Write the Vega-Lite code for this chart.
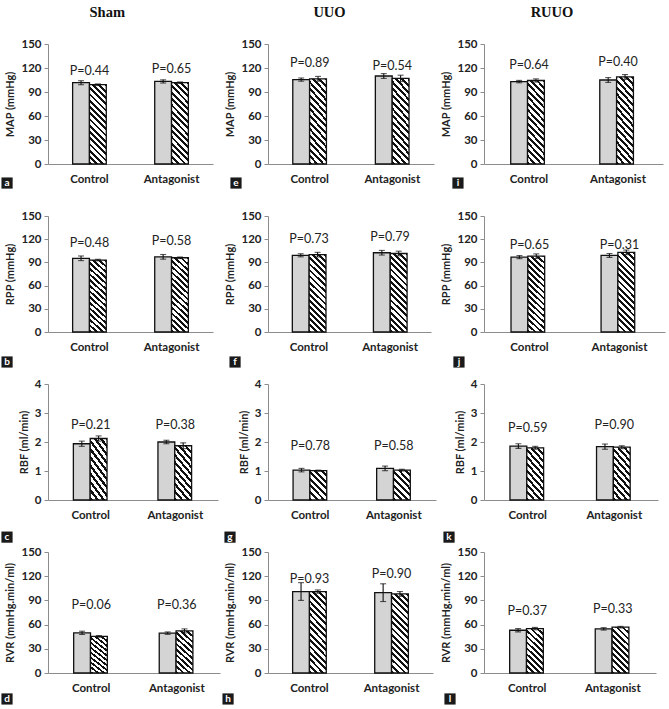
{
"$schema": "https://vega.github.io/schema/vega-lite/v6.json",
"background": "white",
"padding": {"left": 1, "top": 4, "right": 2, "bottom": 2},
"datasets": {
"bars": [
{"panel":"Sham-MAP","group":"Control","series":"dotted","mean":101.6,"lo":99.1,"hi":104.1},
{"panel":"Sham-MAP","group":"Control","series":"hatched","mean":99.1,"lo":98.1,"hi":100.1},
{"panel":"Sham-MAP","group":"Antagonist","series":"dotted","mean":103.2,"lo":101.2,"hi":105.2},
{"panel":"Sham-MAP","group":"Antagonist","series":"hatched","mean":101.6,"lo":100.6,"hi":102.6},
{"panel":"UUO-MAP","group":"Control","series":"dotted","mean":105.5,"lo":103.5,"hi":107.5},
{"panel":"UUO-MAP","group":"Control","series":"hatched","mean":106.5,"lo":103.5,"hi":109.5},
{"panel":"UUO-MAP","group":"Antagonist","series":"dotted","mean":110,"lo":107,"hi":113},
{"panel":"UUO-MAP","group":"Antagonist","series":"hatched","mean":107,"lo":103,"hi":111},
{"panel":"RUUO-MAP","group":"Control","series":"dotted","mean":103,"lo":101.5,"hi":104.5},
{"panel":"RUUO-MAP","group":"Control","series":"hatched","mean":104.4,"lo":102.4,"hi":106.4},
{"panel":"RUUO-MAP","group":"Antagonist","series":"dotted","mean":105,"lo":102,"hi":108},
{"panel":"RUUO-MAP","group":"Antagonist","series":"hatched","mean":108.8,"lo":105.8,"hi":111.8},
{"panel":"Sham-RPP","group":"Control","series":"dotted","mean":95.3,"lo":92.3,"hi":98.3},
{"panel":"Sham-RPP","group":"Control","series":"hatched","mean":93,"lo":92,"hi":94},
{"panel":"Sham-RPP","group":"Antagonist","series":"dotted","mean":97.2,"lo":94.2,"hi":100.2},
{"panel":"Sham-RPP","group":"Antagonist","series":"hatched","mean":96,"lo":95,"hi":97},
{"panel":"UUO-RPP","group":"Control","series":"dotted","mean":99.2,"lo":97.2,"hi":101.2},
{"panel":"UUO-RPP","group":"Control","series":"hatched","mean":100,"lo":97,"hi":103},
{"panel":"UUO-RPP","group":"Antagonist","series":"dotted","mean":102.5,"lo":99.5,"hi":105.5},
{"panel":"UUO-RPP","group":"Antagonist","series":"hatched","mean":101.5,"lo":98.5,"hi":104.5},
{"panel":"RUUO-RPP","group":"Control","series":"dotted","mean":96.8,"lo":94.8,"hi":98.8},
{"panel":"RUUO-RPP","group":"Control","series":"hatched","mean":98,"lo":95,"hi":101},
{"panel":"RUUO-RPP","group":"Antagonist","series":"dotted","mean":99,"lo":96.5,"hi":101.5},
{"panel":"RUUO-RPP","group":"Antagonist","series":"hatched","mean":103,"lo":100,"hi":106},
{"panel":"Sham-RBF","group":"Control","series":"dotted","mean":1.94,"lo":1.85,"hi":2.03},
{"panel":"Sham-RBF","group":"Control","series":"hatched","mean":2.12,"lo":2.03,"hi":2.21},
{"panel":"Sham-RBF","group":"Antagonist","series":"dotted","mean":2.0,"lo":1.94,"hi":2.06},
{"panel":"Sham-RBF","group":"Antagonist","series":"hatched","mean":1.87,"lo":1.77,"hi":1.97},
{"panel":"UUO-RBF","group":"Control","series":"dotted","mean":1.03,"lo":0.97,"hi":1.09},
{"panel":"UUO-RBF","group":"Control","series":"hatched","mean":1.01,"lo":0.99,"hi":1.03},
{"panel":"UUO-RBF","group":"Antagonist","series":"dotted","mean":1.09,"lo":1.01,"hi":1.17},
{"panel":"UUO-RBF","group":"Antagonist","series":"hatched","mean":1.03,"lo":1.0,"hi":1.06},
{"panel":"RUUO-RBF","group":"Control","series":"dotted","mean":1.86,"lo":1.78,"hi":1.94},
{"panel":"RUUO-RBF","group":"Control","series":"hatched","mean":1.8,"lo":1.75,"hi":1.85},
{"panel":"RUUO-RBF","group":"Antagonist","series":"dotted","mean":1.84,"lo":1.75,"hi":1.93},
{"panel":"RUUO-RBF","group":"Antagonist","series":"hatched","mean":1.82,"lo":1.77,"hi":1.87},
{"panel":"Sham-RVR","group":"Control","series":"dotted","mean":49.8,"lo":47.8,"hi":51.8},
{"panel":"Sham-RVR","group":"Control","series":"hatched","mean":45.4,"lo":44.4,"hi":46.4},
{"panel":"Sham-RVR","group":"Antagonist","series":"dotted","mean":49.4,"lo":47.9,"hi":50.9},
{"panel":"Sham-RVR","group":"Antagonist","series":"hatched","mean":52.2,"lo":49.7,"hi":54.7},
{"panel":"UUO-RVR","group":"Control","series":"dotted","mean":101,"lo":90,"hi":112},
{"panel":"UUO-RVR","group":"Control","series":"hatched","mean":101,"lo":99,"hi":103},
{"panel":"UUO-RVR","group":"Antagonist","series":"dotted","mean":99.6,"lo":88.6,"hi":110.6},
{"panel":"UUO-RVR","group":"Antagonist","series":"hatched","mean":98,"lo":95,"hi":101},
{"panel":"RUUO-RVR","group":"Control","series":"dotted","mean":53,"lo":51,"hi":55},
{"panel":"RUUO-RVR","group":"Control","series":"hatched","mean":55,"lo":53.5,"hi":56.5},
{"panel":"RUUO-RVR","group":"Antagonist","series":"dotted","mean":54.7,"lo":53.2,"hi":56.2},
{"panel":"RUUO-RVR","group":"Antagonist","series":"hatched","mean":56.8,"lo":55.8,"hi":57.8}
],
"plabels": [
{"panel":"Sham-MAP","group":"Control","p":"P=0.44","py":116},
{"panel":"Sham-MAP","group":"Antagonist","p":"P=0.65","py":119},
{"panel":"UUO-MAP","group":"Control","p":"P=0.89","py":126},
{"panel":"UUO-MAP","group":"Antagonist","p":"P=0.54","py":122},
{"panel":"RUUO-MAP","group":"Control","p":"P=0.64","py":124},
{"panel":"RUUO-MAP","group":"Antagonist","p":"P=0.40","py":128},
{"panel":"Sham-RPP","group":"Control","p":"P=0.48","py":115},
{"panel":"Sham-RPP","group":"Antagonist","p":"P=0.58","py":118},
{"panel":"UUO-RPP","group":"Control","p":"P=0.73","py":120},
{"panel":"UUO-RPP","group":"Antagonist","p":"P=0.79","py":123},
{"panel":"RUUO-RPP","group":"Control","p":"P=0.65","py":112},
{"panel":"RUUO-RPP","group":"Antagonist","p":"P=0.31","py":113},
{"panel":"Sham-RBF","group":"Control","p":"P=0.21","py":2.58},
{"panel":"Sham-RBF","group":"Antagonist","p":"P=0.38","py":2.58},
{"panel":"UUO-RBF","group":"Control","p":"P=0.78","py":1.85},
{"panel":"UUO-RBF","group":"Antagonist","p":"P=0.58","py":1.85},
{"panel":"RUUO-RBF","group":"Control","p":"P=0.59","py":2.48},
{"panel":"RUUO-RBF","group":"Antagonist","p":"P=0.90","py":2.6},
{"panel":"Sham-RVR","group":"Control","p":"P=0.06","py":84},
{"panel":"Sham-RVR","group":"Antagonist","p":"P=0.36","py":84},
{"panel":"UUO-RVR","group":"Control","p":"P=0.93","py":116},
{"panel":"UUO-RVR","group":"Antagonist","p":"P=0.90","py":123},
{"panel":"RUUO-RVR","group":"Control","p":"P=0.37","py":77},
{"panel":"RUUO-RVR","group":"Antagonist","p":"P=0.33","py":79}
],
"tags": [
{"panel":"Sham-MAP","group":"Control","letter":"a","ly":-23.8},{"panel":"Sham-RPP","group":"Control","letter":"b","ly":-38.8},{"panel":"Sham-RBF","group":"Control","letter":"c","ly":-1.28},{"panel":"Sham-RVR","group":"Control","letter":"d","ly":-32.2},
{"panel":"UUO-MAP","group":"Control","letter":"e","ly":-23.8},{"panel":"UUO-RPP","group":"Control","letter":"f","ly":-38.8},{"panel":"UUO-RBF","group":"Control","letter":"g","ly":-1.28},{"panel":"UUO-RVR","group":"Control","letter":"h","ly":-32.2},
{"panel":"RUUO-MAP","group":"Control","letter":"i","ly":-23.8},{"panel":"RUUO-RPP","group":"Control","letter":"j","ly":-38.8},{"panel":"RUUO-RBF","group":"Control","letter":"k","ly":-1.28},{"panel":"RUUO-RVR","group":"Control","letter":"l","ly":-32.2}
]
},
"columns": 3,
"spacing": {"row": 52, "column": 48},
"bounds": "flush",
"align": {"row": "each", "column": "none"},
"concat": [
{"width":165,"height":120,"title":{"text":"Sham"},
 "encoding":{"x":{"field":"group","type":"nominal","sort":["Control","Antagonist"],"scale":{"paddingInner":0.59,"paddingOuter":0.3},"axis":{"title":null}},
  "y":{"field":"mean","type":"quantitative","scale":{"domain":[0,150],"nice":false},"axis":{"values":[0,30,60,90,120,150],"title":"MAP (mmHg)"}}},
 "layer":[
  {"data":{"name":"bars"},"transform":[{"filter":"datum.panel=='Sham-MAP'"}],"layer":[
   {"transform":[{"filter":"datum.series=='dotted'"}],"mark":{"type":"bar","fill":"#d4d4d4","stroke":"#111","strokeWidth":1.3},"encoding":{"xOffset":{"field":"series","type":"nominal","scale":{"domain":["dotted","hatched"],"paddingInner":0,"paddingOuter":0}}}},
   {"transform":[{"filter":"datum.series=='hatched'"}],"mark":{"type":"bar","stroke":"#111","strokeWidth":1.3,"fill":{"gradient":"linear","x1":0,"y1":1,"x2":0.2562,"y2":-0.2056,"stops":[
{"offset":0,"color":"#111"},{"offset":0.0281,"color":"#111"},{"offset":0.0281,"color":"#fff"},{"offset":0.0625,"color":"#fff"},
{"offset":0.0625,"color":"#111"},{"offset":0.0906,"color":"#111"},{"offset":0.0906,"color":"#fff"},{"offset":0.125,"color":"#fff"},
{"offset":0.125,"color":"#111"},{"offset":0.1531,"color":"#111"},{"offset":0.1531,"color":"#fff"},{"offset":0.1875,"color":"#fff"},
{"offset":0.1875,"color":"#111"},{"offset":0.2156,"color":"#111"},{"offset":0.2156,"color":"#fff"},{"offset":0.25,"color":"#fff"},
{"offset":0.25,"color":"#111"},{"offset":0.2781,"color":"#111"},{"offset":0.2781,"color":"#fff"},{"offset":0.3125,"color":"#fff"},
{"offset":0.3125,"color":"#111"},{"offset":0.3406,"color":"#111"},{"offset":0.3406,"color":"#fff"},{"offset":0.375,"color":"#fff"},
{"offset":0.375,"color":"#111"},{"offset":0.4031,"color":"#111"},{"offset":0.4031,"color":"#fff"},{"offset":0.4375,"color":"#fff"},
{"offset":0.4375,"color":"#111"},{"offset":0.4656,"color":"#111"},{"offset":0.4656,"color":"#fff"},{"offset":0.5,"color":"#fff"},
{"offset":0.5,"color":"#111"},{"offset":0.5281,"color":"#111"},{"offset":0.5281,"color":"#fff"},{"offset":0.5625,"color":"#fff"},
{"offset":0.5625,"color":"#111"},{"offset":0.5906,"color":"#111"},{"offset":0.5906,"color":"#fff"},{"offset":0.625,"color":"#fff"},
{"offset":0.625,"color":"#111"},{"offset":0.6531,"color":"#111"},{"offset":0.6531,"color":"#fff"},{"offset":0.6875,"color":"#fff"},
{"offset":0.6875,"color":"#111"},{"offset":0.7156,"color":"#111"},{"offset":0.7156,"color":"#fff"},{"offset":0.75,"color":"#fff"},
{"offset":0.75,"color":"#111"},{"offset":0.7781,"color":"#111"},{"offset":0.7781,"color":"#fff"},{"offset":0.8125,"color":"#fff"},
{"offset":0.8125,"color":"#111"},{"offset":0.8406,"color":"#111"},{"offset":0.8406,"color":"#fff"},{"offset":0.875,"color":"#fff"},
{"offset":0.875,"color":"#111"},{"offset":0.9031,"color":"#111"},{"offset":0.9031,"color":"#fff"},{"offset":0.9375,"color":"#fff"},
{"offset":0.9375,"color":"#111"},{"offset":0.9656,"color":"#111"},{"offset":0.9656,"color":"#fff"},{"offset":1,"color":"#fff"}]}},"encoding":{"xOffset":{"field":"series","type":"nominal"}}},
   {"mark":{"type":"rule","color":"#111","strokeWidth":1.1},"encoding":{"xOffset":{"field":"series","type":"nominal"},"y":{"field":"lo","type":"quantitative"},"y2":{"field":"hi"}}},
   {"mark":{"type":"tick","color":"#111","size":6,"thickness":1.1},"encoding":{"xOffset":{"field":"series","type":"nominal"},"y":{"field":"lo","type":"quantitative"}}},
   {"mark":{"type":"tick","color":"#111","size":6,"thickness":1.1},"encoding":{"xOffset":{"field":"series","type":"nominal"},"y":{"field":"hi","type":"quantitative"}}}
  ]},
  {"data":{"name":"plabels"},"transform":[{"filter":"datum.panel=='Sham-MAP'"}],"mark":{"type":"text","fontSize":12.5,"color":"#222"},"encoding":{"y":{"field":"py","type":"quantitative"},"text":{"field":"p"}}},
  {"data":{"name":"tags"},"transform":[{"filter":"datum.panel=='Sham-MAP'"}],"layer":[
   {"mark":{"type":"point","shape":"square","filled":true,"color":"#1a1a1a","opacity":1,"size":125,"xOffset":-82.4},"encoding":{"y":{"field":"ly","type":"quantitative"}}},
   {"mark":{"type":"text","color":"white","fontWeight":"bold","fontSize":10,"dx":-82.4},"encoding":{"y":{"field":"ly","type":"quantitative"},"text":{"field":"letter"}}}
  ]}
 ]},
{"width":166,"height":120,"title":{"text":"UUO"},
 "encoding":{"x":{"field":"group","type":"nominal","sort":["Control","Antagonist"],"scale":{"paddingInner":0.59,"paddingOuter":0.3},"axis":{"title":null}},
  "y":{"field":"mean","type":"quantitative","scale":{"domain":[0,150],"nice":false},"axis":{"values":[0,30,60,90,120,150],"title":"MAP (mmHg)"}}},
 "layer":[
  {"data":{"name":"bars"},"transform":[{"filter":"datum.panel=='UUO-MAP'"}],"layer":[
   {"transform":[{"filter":"datum.series=='dotted'"}],"mark":{"type":"bar","fill":"#d4d4d4","stroke":"#111","strokeWidth":1.3},"encoding":{"xOffset":{"field":"series","type":"nominal","scale":{"domain":["dotted","hatched"],"paddingInner":0,"paddingOuter":0}}}},
   {"transform":[{"filter":"datum.series=='hatched'"}],"mark":{"type":"bar","stroke":"#111","strokeWidth":1.3,"fill":{"gradient":"linear","x1":0,"y1":1,"x2":0.2562,"y2":-0.2056,"stops":[
{"offset":0,"color":"#111"},{"offset":0.0281,"color":"#111"},{"offset":0.0281,"color":"#fff"},{"offset":0.0625,"color":"#fff"},
{"offset":0.0625,"color":"#111"},{"offset":0.0906,"color":"#111"},{"offset":0.0906,"color":"#fff"},{"offset":0.125,"color":"#fff"},
{"offset":0.125,"color":"#111"},{"offset":0.1531,"color":"#111"},{"offset":0.1531,"color":"#fff"},{"offset":0.1875,"color":"#fff"},
{"offset":0.1875,"color":"#111"},{"offset":0.2156,"color":"#111"},{"offset":0.2156,"color":"#fff"},{"offset":0.25,"color":"#fff"},
{"offset":0.25,"color":"#111"},{"offset":0.2781,"color":"#111"},{"offset":0.2781,"color":"#fff"},{"offset":0.3125,"color":"#fff"},
{"offset":0.3125,"color":"#111"},{"offset":0.3406,"color":"#111"},{"offset":0.3406,"color":"#fff"},{"offset":0.375,"color":"#fff"},
{"offset":0.375,"color":"#111"},{"offset":0.4031,"color":"#111"},{"offset":0.4031,"color":"#fff"},{"offset":0.4375,"color":"#fff"},
{"offset":0.4375,"color":"#111"},{"offset":0.4656,"color":"#111"},{"offset":0.4656,"color":"#fff"},{"offset":0.5,"color":"#fff"},
{"offset":0.5,"color":"#111"},{"offset":0.5281,"color":"#111"},{"offset":0.5281,"color":"#fff"},{"offset":0.5625,"color":"#fff"},
{"offset":0.5625,"color":"#111"},{"offset":0.5906,"color":"#111"},{"offset":0.5906,"color":"#fff"},{"offset":0.625,"color":"#fff"},
{"offset":0.625,"color":"#111"},{"offset":0.6531,"color":"#111"},{"offset":0.6531,"color":"#fff"},{"offset":0.6875,"color":"#fff"},
{"offset":0.6875,"color":"#111"},{"offset":0.7156,"color":"#111"},{"offset":0.7156,"color":"#fff"},{"offset":0.75,"color":"#fff"},
{"offset":0.75,"color":"#111"},{"offset":0.7781,"color":"#111"},{"offset":0.7781,"color":"#fff"},{"offset":0.8125,"color":"#fff"},
{"offset":0.8125,"color":"#111"},{"offset":0.8406,"color":"#111"},{"offset":0.8406,"color":"#fff"},{"offset":0.875,"color":"#fff"},
{"offset":0.875,"color":"#111"},{"offset":0.9031,"color":"#111"},{"offset":0.9031,"color":"#fff"},{"offset":0.9375,"color":"#fff"},
{"offset":0.9375,"color":"#111"},{"offset":0.9656,"color":"#111"},{"offset":0.9656,"color":"#fff"},{"offset":1,"color":"#fff"}]}},"encoding":{"xOffset":{"field":"series","type":"nominal"}}},
   {"mark":{"type":"rule","color":"#111","strokeWidth":1.1},"encoding":{"xOffset":{"field":"series","type":"nominal"},"y":{"field":"lo","type":"quantitative"},"y2":{"field":"hi"}}},
   {"mark":{"type":"tick","color":"#111","size":6,"thickness":1.1},"encoding":{"xOffset":{"field":"series","type":"nominal"},"y":{"field":"lo","type":"quantitative"}}},
   {"mark":{"type":"tick","color":"#111","size":6,"thickness":1.1},"encoding":{"xOffset":{"field":"series","type":"nominal"},"y":{"field":"hi","type":"quantitative"}}}
  ]},
  {"data":{"name":"plabels"},"transform":[{"filter":"datum.panel=='UUO-MAP'"}],"mark":{"type":"text","fontSize":12.5,"color":"#222"},"encoding":{"y":{"field":"py","type":"quantitative"},"text":{"field":"p"}}},
  {"data":{"name":"tags"},"transform":[{"filter":"datum.panel=='UUO-MAP'"}],"layer":[
   {"mark":{"type":"point","shape":"square","filled":true,"color":"#1a1a1a","opacity":1,"size":125,"xOffset":-73.7},"encoding":{"y":{"field":"ly","type":"quantitative"}}},
   {"mark":{"type":"text","color":"white","fontWeight":"bold","fontSize":10,"dx":-73.7},"encoding":{"y":{"field":"ly","type":"quantitative"},"text":{"field":"letter"}}}
  ]}
 ]},
{"width":179,"height":120,"title":{"text":"RUUO"},
 "encoding":{"x":{"field":"group","type":"nominal","sort":["Control","Antagonist"],"scale":{"paddingInner":0.59,"paddingOuter":0.3},"axis":{"title":null}},
  "y":{"field":"mean","type":"quantitative","scale":{"domain":[0,150],"nice":false},"axis":{"values":[0,30,60,90,120,150],"title":"MAP (mmHg)"}}},
 "layer":[
  {"data":{"name":"bars"},"transform":[{"filter":"datum.panel=='RUUO-MAP'"}],"layer":[
   {"transform":[{"filter":"datum.series=='dotted'"}],"mark":{"type":"bar","fill":"#d4d4d4","stroke":"#111","strokeWidth":1.3},"encoding":{"xOffset":{"field":"series","type":"nominal","scale":{"domain":["dotted","hatched"],"paddingInner":0,"paddingOuter":0}}}},
   {"transform":[{"filter":"datum.series=='hatched'"}],"mark":{"type":"bar","stroke":"#111","strokeWidth":1.3,"fill":{"gradient":"linear","x1":0,"y1":1,"x2":0.2562,"y2":-0.2056,"stops":[
{"offset":0,"color":"#111"},{"offset":0.0281,"color":"#111"},{"offset":0.0281,"color":"#fff"},{"offset":0.0625,"color":"#fff"},
{"offset":0.0625,"color":"#111"},{"offset":0.0906,"color":"#111"},{"offset":0.0906,"color":"#fff"},{"offset":0.125,"color":"#fff"},
{"offset":0.125,"color":"#111"},{"offset":0.1531,"color":"#111"},{"offset":0.1531,"color":"#fff"},{"offset":0.1875,"color":"#fff"},
{"offset":0.1875,"color":"#111"},{"offset":0.2156,"color":"#111"},{"offset":0.2156,"color":"#fff"},{"offset":0.25,"color":"#fff"},
{"offset":0.25,"color":"#111"},{"offset":0.2781,"color":"#111"},{"offset":0.2781,"color":"#fff"},{"offset":0.3125,"color":"#fff"},
{"offset":0.3125,"color":"#111"},{"offset":0.3406,"color":"#111"},{"offset":0.3406,"color":"#fff"},{"offset":0.375,"color":"#fff"},
{"offset":0.375,"color":"#111"},{"offset":0.4031,"color":"#111"},{"offset":0.4031,"color":"#fff"},{"offset":0.4375,"color":"#fff"},
{"offset":0.4375,"color":"#111"},{"offset":0.4656,"color":"#111"},{"offset":0.4656,"color":"#fff"},{"offset":0.5,"color":"#fff"},
{"offset":0.5,"color":"#111"},{"offset":0.5281,"color":"#111"},{"offset":0.5281,"color":"#fff"},{"offset":0.5625,"color":"#fff"},
{"offset":0.5625,"color":"#111"},{"offset":0.5906,"color":"#111"},{"offset":0.5906,"color":"#fff"},{"offset":0.625,"color":"#fff"},
{"offset":0.625,"color":"#111"},{"offset":0.6531,"color":"#111"},{"offset":0.6531,"color":"#fff"},{"offset":0.6875,"color":"#fff"},
{"offset":0.6875,"color":"#111"},{"offset":0.7156,"color":"#111"},{"offset":0.7156,"color":"#fff"},{"offset":0.75,"color":"#fff"},
{"offset":0.75,"color":"#111"},{"offset":0.7781,"color":"#111"},{"offset":0.7781,"color":"#fff"},{"offset":0.8125,"color":"#fff"},
{"offset":0.8125,"color":"#111"},{"offset":0.8406,"color":"#111"},{"offset":0.8406,"color":"#fff"},{"offset":0.875,"color":"#fff"},
{"offset":0.875,"color":"#111"},{"offset":0.9031,"color":"#111"},{"offset":0.9031,"color":"#fff"},{"offset":0.9375,"color":"#fff"},
{"offset":0.9375,"color":"#111"},{"offset":0.9656,"color":"#111"},{"offset":0.9656,"color":"#fff"},{"offset":1,"color":"#fff"}]}},"encoding":{"xOffset":{"field":"series","type":"nominal"}}},
   {"mark":{"type":"rule","color":"#111","strokeWidth":1.1},"encoding":{"xOffset":{"field":"series","type":"nominal"},"y":{"field":"lo","type":"quantitative"},"y2":{"field":"hi"}}},
   {"mark":{"type":"tick","color":"#111","size":6,"thickness":1.1},"encoding":{"xOffset":{"field":"series","type":"nominal"},"y":{"field":"lo","type":"quantitative"}}},
   {"mark":{"type":"tick","color":"#111","size":6,"thickness":1.1},"encoding":{"xOffset":{"field":"series","type":"nominal"},"y":{"field":"hi","type":"quantitative"}}}
  ]},
  {"data":{"name":"plabels"},"transform":[{"filter":"datum.panel=='RUUO-MAP'"}],"mark":{"type":"text","fontSize":12.5,"color":"#222"},"encoding":{"y":{"field":"py","type":"quantitative"},"text":{"field":"p"}}},
  {"data":{"name":"tags"},"transform":[{"filter":"datum.panel=='RUUO-MAP'"}],"layer":[
   {"mark":{"type":"point","shape":"square","filled":true,"color":"#1a1a1a","opacity":1,"size":125,"xOffset":-71},"encoding":{"y":{"field":"ly","type":"quantitative"}}},
   {"mark":{"type":"text","color":"white","fontWeight":"bold","fontSize":10,"dx":-71},"encoding":{"y":{"field":"ly","type":"quantitative"},"text":{"field":"letter"}}}
  ]}
 ]},
{"width":165,"height":116,
 "encoding":{"x":{"field":"group","type":"nominal","sort":["Control","Antagonist"],"scale":{"paddingInner":0.59,"paddingOuter":0.3},"axis":{"title":null}},
  "y":{"field":"mean","type":"quantitative","scale":{"domain":[0,150],"nice":false},"axis":{"values":[0,30,60,90,120,150],"title":"RPP (mmHg)"}}},
 "layer":[
  {"data":{"name":"bars"},"transform":[{"filter":"datum.panel=='Sham-RPP'"}],"layer":[
   {"transform":[{"filter":"datum.series=='dotted'"}],"mark":{"type":"bar","fill":"#d4d4d4","stroke":"#111","strokeWidth":1.3},"encoding":{"xOffset":{"field":"series","type":"nominal","scale":{"domain":["dotted","hatched"],"paddingInner":0,"paddingOuter":0}}}},
   {"transform":[{"filter":"datum.series=='hatched'"}],"mark":{"type":"bar","stroke":"#111","strokeWidth":1.3,"fill":{"gradient":"linear","x1":0,"y1":1,"x2":0.2562,"y2":-0.2056,"stops":[
{"offset":0,"color":"#111"},{"offset":0.0281,"color":"#111"},{"offset":0.0281,"color":"#fff"},{"offset":0.0625,"color":"#fff"},
{"offset":0.0625,"color":"#111"},{"offset":0.0906,"color":"#111"},{"offset":0.0906,"color":"#fff"},{"offset":0.125,"color":"#fff"},
{"offset":0.125,"color":"#111"},{"offset":0.1531,"color":"#111"},{"offset":0.1531,"color":"#fff"},{"offset":0.1875,"color":"#fff"},
{"offset":0.1875,"color":"#111"},{"offset":0.2156,"color":"#111"},{"offset":0.2156,"color":"#fff"},{"offset":0.25,"color":"#fff"},
{"offset":0.25,"color":"#111"},{"offset":0.2781,"color":"#111"},{"offset":0.2781,"color":"#fff"},{"offset":0.3125,"color":"#fff"},
{"offset":0.3125,"color":"#111"},{"offset":0.3406,"color":"#111"},{"offset":0.3406,"color":"#fff"},{"offset":0.375,"color":"#fff"},
{"offset":0.375,"color":"#111"},{"offset":0.4031,"color":"#111"},{"offset":0.4031,"color":"#fff"},{"offset":0.4375,"color":"#fff"},
{"offset":0.4375,"color":"#111"},{"offset":0.4656,"color":"#111"},{"offset":0.4656,"color":"#fff"},{"offset":0.5,"color":"#fff"},
{"offset":0.5,"color":"#111"},{"offset":0.5281,"color":"#111"},{"offset":0.5281,"color":"#fff"},{"offset":0.5625,"color":"#fff"},
{"offset":0.5625,"color":"#111"},{"offset":0.5906,"color":"#111"},{"offset":0.5906,"color":"#fff"},{"offset":0.625,"color":"#fff"},
{"offset":0.625,"color":"#111"},{"offset":0.6531,"color":"#111"},{"offset":0.6531,"color":"#fff"},{"offset":0.6875,"color":"#fff"},
{"offset":0.6875,"color":"#111"},{"offset":0.7156,"color":"#111"},{"offset":0.7156,"color":"#fff"},{"offset":0.75,"color":"#fff"},
{"offset":0.75,"color":"#111"},{"offset":0.7781,"color":"#111"},{"offset":0.7781,"color":"#fff"},{"offset":0.8125,"color":"#fff"},
{"offset":0.8125,"color":"#111"},{"offset":0.8406,"color":"#111"},{"offset":0.8406,"color":"#fff"},{"offset":0.875,"color":"#fff"},
{"offset":0.875,"color":"#111"},{"offset":0.9031,"color":"#111"},{"offset":0.9031,"color":"#fff"},{"offset":0.9375,"color":"#fff"},
{"offset":0.9375,"color":"#111"},{"offset":0.9656,"color":"#111"},{"offset":0.9656,"color":"#fff"},{"offset":1,"color":"#fff"}]}},"encoding":{"xOffset":{"field":"series","type":"nominal"}}},
   {"mark":{"type":"rule","color":"#111","strokeWidth":1.1},"encoding":{"xOffset":{"field":"series","type":"nominal"},"y":{"field":"lo","type":"quantitative"},"y2":{"field":"hi"}}},
   {"mark":{"type":"tick","color":"#111","size":6,"thickness":1.1},"encoding":{"xOffset":{"field":"series","type":"nominal"},"y":{"field":"lo","type":"quantitative"}}},
   {"mark":{"type":"tick","color":"#111","size":6,"thickness":1.1},"encoding":{"xOffset":{"field":"series","type":"nominal"},"y":{"field":"hi","type":"quantitative"}}}
  ]},
  {"data":{"name":"plabels"},"transform":[{"filter":"datum.panel=='Sham-RPP'"}],"mark":{"type":"text","fontSize":12.5,"color":"#222"},"encoding":{"y":{"field":"py","type":"quantitative"},"text":{"field":"p"}}},
  {"data":{"name":"tags"},"transform":[{"filter":"datum.panel=='Sham-RPP'"}],"layer":[
   {"mark":{"type":"point","shape":"square","filled":true,"color":"#1a1a1a","opacity":1,"size":125,"xOffset":-82.4},"encoding":{"y":{"field":"ly","type":"quantitative"}}},
   {"mark":{"type":"text","color":"white","fontWeight":"bold","fontSize":10,"dx":-82.4},"encoding":{"y":{"field":"ly","type":"quantitative"},"text":{"field":"letter"}}}
  ]}
 ]},
{"width":163,"height":116,
 "encoding":{"x":{"field":"group","type":"nominal","sort":["Control","Antagonist"],"scale":{"paddingInner":0.59,"paddingOuter":0.3},"axis":{"title":null}},
  "y":{"field":"mean","type":"quantitative","scale":{"domain":[0,150],"nice":false},"axis":{"values":[0,30,60,90,120,150],"title":"RPP (mmHg)"}}},
 "layer":[
  {"data":{"name":"bars"},"transform":[{"filter":"datum.panel=='UUO-RPP'"}],"layer":[
   {"transform":[{"filter":"datum.series=='dotted'"}],"mark":{"type":"bar","fill":"#d4d4d4","stroke":"#111","strokeWidth":1.3},"encoding":{"xOffset":{"field":"series","type":"nominal","scale":{"domain":["dotted","hatched"],"paddingInner":0,"paddingOuter":0}}}},
   {"transform":[{"filter":"datum.series=='hatched'"}],"mark":{"type":"bar","stroke":"#111","strokeWidth":1.3,"fill":{"gradient":"linear","x1":0,"y1":1,"x2":0.2562,"y2":-0.2056,"stops":[
{"offset":0,"color":"#111"},{"offset":0.0281,"color":"#111"},{"offset":0.0281,"color":"#fff"},{"offset":0.0625,"color":"#fff"},
{"offset":0.0625,"color":"#111"},{"offset":0.0906,"color":"#111"},{"offset":0.0906,"color":"#fff"},{"offset":0.125,"color":"#fff"},
{"offset":0.125,"color":"#111"},{"offset":0.1531,"color":"#111"},{"offset":0.1531,"color":"#fff"},{"offset":0.1875,"color":"#fff"},
{"offset":0.1875,"color":"#111"},{"offset":0.2156,"color":"#111"},{"offset":0.2156,"color":"#fff"},{"offset":0.25,"color":"#fff"},
{"offset":0.25,"color":"#111"},{"offset":0.2781,"color":"#111"},{"offset":0.2781,"color":"#fff"},{"offset":0.3125,"color":"#fff"},
{"offset":0.3125,"color":"#111"},{"offset":0.3406,"color":"#111"},{"offset":0.3406,"color":"#fff"},{"offset":0.375,"color":"#fff"},
{"offset":0.375,"color":"#111"},{"offset":0.4031,"color":"#111"},{"offset":0.4031,"color":"#fff"},{"offset":0.4375,"color":"#fff"},
{"offset":0.4375,"color":"#111"},{"offset":0.4656,"color":"#111"},{"offset":0.4656,"color":"#fff"},{"offset":0.5,"color":"#fff"},
{"offset":0.5,"color":"#111"},{"offset":0.5281,"color":"#111"},{"offset":0.5281,"color":"#fff"},{"offset":0.5625,"color":"#fff"},
{"offset":0.5625,"color":"#111"},{"offset":0.5906,"color":"#111"},{"offset":0.5906,"color":"#fff"},{"offset":0.625,"color":"#fff"},
{"offset":0.625,"color":"#111"},{"offset":0.6531,"color":"#111"},{"offset":0.6531,"color":"#fff"},{"offset":0.6875,"color":"#fff"},
{"offset":0.6875,"color":"#111"},{"offset":0.7156,"color":"#111"},{"offset":0.7156,"color":"#fff"},{"offset":0.75,"color":"#fff"},
{"offset":0.75,"color":"#111"},{"offset":0.7781,"color":"#111"},{"offset":0.7781,"color":"#fff"},{"offset":0.8125,"color":"#fff"},
{"offset":0.8125,"color":"#111"},{"offset":0.8406,"color":"#111"},{"offset":0.8406,"color":"#fff"},{"offset":0.875,"color":"#fff"},
{"offset":0.875,"color":"#111"},{"offset":0.9031,"color":"#111"},{"offset":0.9031,"color":"#fff"},{"offset":0.9375,"color":"#fff"},
{"offset":0.9375,"color":"#111"},{"offset":0.9656,"color":"#111"},{"offset":0.9656,"color":"#fff"},{"offset":1,"color":"#fff"}]}},"encoding":{"xOffset":{"field":"series","type":"nominal"}}},
   {"mark":{"type":"rule","color":"#111","strokeWidth":1.1},"encoding":{"xOffset":{"field":"series","type":"nominal"},"y":{"field":"lo","type":"quantitative"},"y2":{"field":"hi"}}},
   {"mark":{"type":"tick","color":"#111","size":6,"thickness":1.1},"encoding":{"xOffset":{"field":"series","type":"nominal"},"y":{"field":"lo","type":"quantitative"}}},
   {"mark":{"type":"tick","color":"#111","size":6,"thickness":1.1},"encoding":{"xOffset":{"field":"series","type":"nominal"},"y":{"field":"hi","type":"quantitative"}}}
  ]},
  {"data":{"name":"plabels"},"transform":[{"filter":"datum.panel=='UUO-RPP'"}],"mark":{"type":"text","fontSize":12.5,"color":"#222"},"encoding":{"y":{"field":"py","type":"quantitative"},"text":{"field":"p"}}},
  {"data":{"name":"tags"},"transform":[{"filter":"datum.panel=='UUO-RPP'"}],"layer":[
   {"mark":{"type":"point","shape":"square","filled":true,"color":"#1a1a1a","opacity":1,"size":125,"xOffset":-73.9},"encoding":{"y":{"field":"ly","type":"quantitative"}}},
   {"mark":{"type":"text","color":"white","fontWeight":"bold","fontSize":10,"dx":-73.9},"encoding":{"y":{"field":"ly","type":"quantitative"},"text":{"field":"letter"}}}
  ]}
 ]},
{"width":181,"height":116,
 "encoding":{"x":{"field":"group","type":"nominal","sort":["Control","Antagonist"],"scale":{"paddingInner":0.59,"paddingOuter":0.3},"axis":{"title":null}},
  "y":{"field":"mean","type":"quantitative","scale":{"domain":[0,150],"nice":false},"axis":{"values":[0,30,60,90,120,150],"title":"RPP (mmHg)"}}},
 "layer":[
  {"data":{"name":"bars"},"transform":[{"filter":"datum.panel=='RUUO-RPP'"}],"layer":[
   {"transform":[{"filter":"datum.series=='dotted'"}],"mark":{"type":"bar","fill":"#d4d4d4","stroke":"#111","strokeWidth":1.3},"encoding":{"xOffset":{"field":"series","type":"nominal","scale":{"domain":["dotted","hatched"],"paddingInner":0,"paddingOuter":0}}}},
   {"transform":[{"filter":"datum.series=='hatched'"}],"mark":{"type":"bar","stroke":"#111","strokeWidth":1.3,"fill":{"gradient":"linear","x1":0,"y1":1,"x2":0.2562,"y2":-0.2056,"stops":[
{"offset":0,"color":"#111"},{"offset":0.0281,"color":"#111"},{"offset":0.0281,"color":"#fff"},{"offset":0.0625,"color":"#fff"},
{"offset":0.0625,"color":"#111"},{"offset":0.0906,"color":"#111"},{"offset":0.0906,"color":"#fff"},{"offset":0.125,"color":"#fff"},
{"offset":0.125,"color":"#111"},{"offset":0.1531,"color":"#111"},{"offset":0.1531,"color":"#fff"},{"offset":0.1875,"color":"#fff"},
{"offset":0.1875,"color":"#111"},{"offset":0.2156,"color":"#111"},{"offset":0.2156,"color":"#fff"},{"offset":0.25,"color":"#fff"},
{"offset":0.25,"color":"#111"},{"offset":0.2781,"color":"#111"},{"offset":0.2781,"color":"#fff"},{"offset":0.3125,"color":"#fff"},
{"offset":0.3125,"color":"#111"},{"offset":0.3406,"color":"#111"},{"offset":0.3406,"color":"#fff"},{"offset":0.375,"color":"#fff"},
{"offset":0.375,"color":"#111"},{"offset":0.4031,"color":"#111"},{"offset":0.4031,"color":"#fff"},{"offset":0.4375,"color":"#fff"},
{"offset":0.4375,"color":"#111"},{"offset":0.4656,"color":"#111"},{"offset":0.4656,"color":"#fff"},{"offset":0.5,"color":"#fff"},
{"offset":0.5,"color":"#111"},{"offset":0.5281,"color":"#111"},{"offset":0.5281,"color":"#fff"},{"offset":0.5625,"color":"#fff"},
{"offset":0.5625,"color":"#111"},{"offset":0.5906,"color":"#111"},{"offset":0.5906,"color":"#fff"},{"offset":0.625,"color":"#fff"},
{"offset":0.625,"color":"#111"},{"offset":0.6531,"color":"#111"},{"offset":0.6531,"color":"#fff"},{"offset":0.6875,"color":"#fff"},
{"offset":0.6875,"color":"#111"},{"offset":0.7156,"color":"#111"},{"offset":0.7156,"color":"#fff"},{"offset":0.75,"color":"#fff"},
{"offset":0.75,"color":"#111"},{"offset":0.7781,"color":"#111"},{"offset":0.7781,"color":"#fff"},{"offset":0.8125,"color":"#fff"},
{"offset":0.8125,"color":"#111"},{"offset":0.8406,"color":"#111"},{"offset":0.8406,"color":"#fff"},{"offset":0.875,"color":"#fff"},
{"offset":0.875,"color":"#111"},{"offset":0.9031,"color":"#111"},{"offset":0.9031,"color":"#fff"},{"offset":0.9375,"color":"#fff"},
{"offset":0.9375,"color":"#111"},{"offset":0.9656,"color":"#111"},{"offset":0.9656,"color":"#fff"},{"offset":1,"color":"#fff"}]}},"encoding":{"xOffset":{"field":"series","type":"nominal"}}},
   {"mark":{"type":"rule","color":"#111","strokeWidth":1.1},"encoding":{"xOffset":{"field":"series","type":"nominal"},"y":{"field":"lo","type":"quantitative"},"y2":{"field":"hi"}}},
   {"mark":{"type":"tick","color":"#111","size":6,"thickness":1.1},"encoding":{"xOffset":{"field":"series","type":"nominal"},"y":{"field":"lo","type":"quantitative"}}},
   {"mark":{"type":"tick","color":"#111","size":6,"thickness":1.1},"encoding":{"xOffset":{"field":"series","type":"nominal"},"y":{"field":"hi","type":"quantitative"}}}
  ]},
  {"data":{"name":"plabels"},"transform":[{"filter":"datum.panel=='RUUO-RPP'"}],"mark":{"type":"text","fontSize":12.5,"color":"#222"},"encoding":{"y":{"field":"py","type":"quantitative"},"text":{"field":"p"}}},
  {"data":{"name":"tags"},"transform":[{"filter":"datum.panel=='RUUO-RPP'"}],"layer":[
   {"mark":{"type":"point","shape":"square","filled":true,"color":"#1a1a1a","opacity":1,"size":125,"xOffset":-70.5},"encoding":{"y":{"field":"ly","type":"quantitative"}}},
   {"mark":{"type":"text","color":"white","fontWeight":"bold","fontSize":10,"dx":-70.5},"encoding":{"y":{"field":"ly","type":"quantitative"},"text":{"field":"letter"}}}
  ]}
 ]},
{"width":170,"height":116,
 "encoding":{"x":{"field":"group","type":"nominal","sort":["Control","Antagonist"],"scale":{"paddingInner":0.59,"paddingOuter":0.3},"axis":{"title":null}},
  "y":{"field":"mean","type":"quantitative","scale":{"domain":[0,4],"nice":false},"axis":{"values":[0,1,2,3,4],"title":"RBF (ml/min)"}}},
 "layer":[
  {"data":{"name":"bars"},"transform":[{"filter":"datum.panel=='Sham-RBF'"}],"layer":[
   {"transform":[{"filter":"datum.series=='dotted'"}],"mark":{"type":"bar","fill":"#d4d4d4","stroke":"#111","strokeWidth":1.3},"encoding":{"xOffset":{"field":"series","type":"nominal","scale":{"domain":["dotted","hatched"],"paddingInner":0,"paddingOuter":0}}}},
   {"transform":[{"filter":"datum.series=='hatched'"}],"mark":{"type":"bar","stroke":"#111","strokeWidth":1.3,"fill":{"gradient":"linear","x1":0,"y1":1,"x2":0.5126,"y2":-0.4141,"stops":[
{"offset":0,"color":"#111"},{"offset":0.0375,"color":"#111"},{"offset":0.0375,"color":"#fff"},{"offset":0.0833,"color":"#fff"},
{"offset":0.0833,"color":"#111"},{"offset":0.1208,"color":"#111"},{"offset":0.1208,"color":"#fff"},{"offset":0.1667,"color":"#fff"},
{"offset":0.1667,"color":"#111"},{"offset":0.2042,"color":"#111"},{"offset":0.2042,"color":"#fff"},{"offset":0.25,"color":"#fff"},
{"offset":0.25,"color":"#111"},{"offset":0.2875,"color":"#111"},{"offset":0.2875,"color":"#fff"},{"offset":0.3333,"color":"#fff"},
{"offset":0.3333,"color":"#111"},{"offset":0.3708,"color":"#111"},{"offset":0.3708,"color":"#fff"},{"offset":0.4167,"color":"#fff"},
{"offset":0.4167,"color":"#111"},{"offset":0.4542,"color":"#111"},{"offset":0.4542,"color":"#fff"},{"offset":0.5,"color":"#fff"},
{"offset":0.5,"color":"#111"},{"offset":0.5375,"color":"#111"},{"offset":0.5375,"color":"#fff"},{"offset":0.5833,"color":"#fff"},
{"offset":0.5833,"color":"#111"},{"offset":0.6208,"color":"#111"},{"offset":0.6208,"color":"#fff"},{"offset":0.6667,"color":"#fff"},
{"offset":0.6667,"color":"#111"},{"offset":0.7042,"color":"#111"},{"offset":0.7042,"color":"#fff"},{"offset":0.75,"color":"#fff"},
{"offset":0.75,"color":"#111"},{"offset":0.7875,"color":"#111"},{"offset":0.7875,"color":"#fff"},{"offset":0.8333,"color":"#fff"},
{"offset":0.8333,"color":"#111"},{"offset":0.8708,"color":"#111"},{"offset":0.8708,"color":"#fff"},{"offset":0.9167,"color":"#fff"},
{"offset":0.9167,"color":"#111"},{"offset":0.9542,"color":"#111"},{"offset":0.9542,"color":"#fff"},{"offset":1,"color":"#fff"}]}},"encoding":{"xOffset":{"field":"series","type":"nominal"}}},
   {"mark":{"type":"rule","color":"#111","strokeWidth":1.1},"encoding":{"xOffset":{"field":"series","type":"nominal"},"y":{"field":"lo","type":"quantitative"},"y2":{"field":"hi"}}},
   {"mark":{"type":"tick","color":"#111","size":6,"thickness":1.1},"encoding":{"xOffset":{"field":"series","type":"nominal"},"y":{"field":"lo","type":"quantitative"}}},
   {"mark":{"type":"tick","color":"#111","size":6,"thickness":1.1},"encoding":{"xOffset":{"field":"series","type":"nominal"},"y":{"field":"hi","type":"quantitative"}}}
  ]},
  {"data":{"name":"plabels"},"transform":[{"filter":"datum.panel=='Sham-RBF'"}],"mark":{"type":"text","fontSize":12.5,"color":"#222"},"encoding":{"y":{"field":"py","type":"quantitative"},"text":{"field":"p"}}},
  {"data":{"name":"tags"},"transform":[{"filter":"datum.panel=='Sham-RBF'"}],"layer":[
   {"mark":{"type":"point","shape":"square","filled":true,"color":"#1a1a1a","opacity":1,"size":125,"xOffset":-83.7},"encoding":{"y":{"field":"ly","type":"quantitative"}}},
   {"mark":{"type":"text","color":"white","fontWeight":"bold","fontSize":10,"dx":-83.7},"encoding":{"y":{"field":"ly","type":"quantitative"},"text":{"field":"letter"}}}
  ]}
 ]},
{"width":168,"height":116,
 "encoding":{"x":{"field":"group","type":"nominal","sort":["Control","Antagonist"],"scale":{"paddingInner":0.59,"paddingOuter":0.3},"axis":{"title":null}},
  "y":{"field":"mean","type":"quantitative","scale":{"domain":[0,4],"nice":false},"axis":{"values":[0,1,2,3,4],"title":"RBF (ml/min)"}}},
 "layer":[
  {"data":{"name":"bars"},"transform":[{"filter":"datum.panel=='UUO-RBF'"}],"layer":[
   {"transform":[{"filter":"datum.series=='dotted'"}],"mark":{"type":"bar","fill":"#d4d4d4","stroke":"#111","strokeWidth":1.3},"encoding":{"xOffset":{"field":"series","type":"nominal","scale":{"domain":["dotted","hatched"],"paddingInner":0,"paddingOuter":0}}}},
   {"transform":[{"filter":"datum.series=='hatched'"}],"mark":{"type":"bar","stroke":"#111","strokeWidth":1.3,"fill":{"gradient":"linear","x1":0,"y1":1,"x2":0.6874,"y2":-0.1818,"stops":[
{"offset":0,"color":"#111"},{"offset":0.0643,"color":"#111"},{"offset":0.0643,"color":"#fff"},{"offset":0.1429,"color":"#fff"},
{"offset":0.1429,"color":"#111"},{"offset":0.2071,"color":"#111"},{"offset":0.2071,"color":"#fff"},{"offset":0.2857,"color":"#fff"},
{"offset":0.2857,"color":"#111"},{"offset":0.35,"color":"#111"},{"offset":0.35,"color":"#fff"},{"offset":0.4286,"color":"#fff"},
{"offset":0.4286,"color":"#111"},{"offset":0.4929,"color":"#111"},{"offset":0.4929,"color":"#fff"},{"offset":0.5714,"color":"#fff"},
{"offset":0.5714,"color":"#111"},{"offset":0.6357,"color":"#111"},{"offset":0.6357,"color":"#fff"},{"offset":0.7143,"color":"#fff"},
{"offset":0.7143,"color":"#111"},{"offset":0.7786,"color":"#111"},{"offset":0.7786,"color":"#fff"},{"offset":0.8571,"color":"#fff"},
{"offset":0.8571,"color":"#111"},{"offset":0.9214,"color":"#111"},{"offset":0.9214,"color":"#fff"},{"offset":1,"color":"#fff"}]}},"encoding":{"xOffset":{"field":"series","type":"nominal"}}},
   {"mark":{"type":"rule","color":"#111","strokeWidth":1.1},"encoding":{"xOffset":{"field":"series","type":"nominal"},"y":{"field":"lo","type":"quantitative"},"y2":{"field":"hi"}}},
   {"mark":{"type":"tick","color":"#111","size":6,"thickness":1.1},"encoding":{"xOffset":{"field":"series","type":"nominal"},"y":{"field":"lo","type":"quantitative"}}},
   {"mark":{"type":"tick","color":"#111","size":6,"thickness":1.1},"encoding":{"xOffset":{"field":"series","type":"nominal"},"y":{"field":"hi","type":"quantitative"}}}
  ]},
  {"data":{"name":"plabels"},"transform":[{"filter":"datum.panel=='UUO-RBF'"}],"mark":{"type":"text","fontSize":12.5,"color":"#222"},"encoding":{"y":{"field":"py","type":"quantitative"},"text":{"field":"p"}}},
  {"data":{"name":"tags"},"transform":[{"filter":"datum.panel=='UUO-RBF'"}],"layer":[
   {"mark":{"type":"point","shape":"square","filled":true,"color":"#1a1a1a","opacity":1,"size":125,"xOffset":-80.2},"encoding":{"y":{"field":"ly","type":"quantitative"}}},
   {"mark":{"type":"text","color":"white","fontWeight":"bold","fontSize":10,"dx":-80.2},"encoding":{"y":{"field":"ly","type":"quantitative"},"text":{"field":"letter"}}}
  ]}
 ]},
{"width":174,"height":116,
 "encoding":{"x":{"field":"group","type":"nominal","sort":["Control","Antagonist"],"scale":{"paddingInner":0.59,"paddingOuter":0.3},"axis":{"title":null}},
  "y":{"field":"mean","type":"quantitative","scale":{"domain":[0,4],"nice":false},"axis":{"values":[0,1,2,3,4],"title":"RBF (ml/min)"}}},
 "layer":[
  {"data":{"name":"bars"},"transform":[{"filter":"datum.panel=='RUUO-RBF'"}],"layer":[
   {"transform":[{"filter":"datum.series=='dotted'"}],"mark":{"type":"bar","fill":"#d4d4d4","stroke":"#111","strokeWidth":1.3},"encoding":{"xOffset":{"field":"series","type":"nominal","scale":{"domain":["dotted","hatched"],"paddingInner":0,"paddingOuter":0}}}},
   {"transform":[{"filter":"datum.series=='hatched'"}],"mark":{"type":"bar","stroke":"#111","strokeWidth":1.3,"fill":{"gradient":"linear","x1":0,"y1":1,"x2":0.5126,"y2":-0.4141,"stops":[
{"offset":0,"color":"#111"},{"offset":0.0375,"color":"#111"},{"offset":0.0375,"color":"#fff"},{"offset":0.0833,"color":"#fff"},
{"offset":0.0833,"color":"#111"},{"offset":0.1208,"color":"#111"},{"offset":0.1208,"color":"#fff"},{"offset":0.1667,"color":"#fff"},
{"offset":0.1667,"color":"#111"},{"offset":0.2042,"color":"#111"},{"offset":0.2042,"color":"#fff"},{"offset":0.25,"color":"#fff"},
{"offset":0.25,"color":"#111"},{"offset":0.2875,"color":"#111"},{"offset":0.2875,"color":"#fff"},{"offset":0.3333,"color":"#fff"},
{"offset":0.3333,"color":"#111"},{"offset":0.3708,"color":"#111"},{"offset":0.3708,"color":"#fff"},{"offset":0.4167,"color":"#fff"},
{"offset":0.4167,"color":"#111"},{"offset":0.4542,"color":"#111"},{"offset":0.4542,"color":"#fff"},{"offset":0.5,"color":"#fff"},
{"offset":0.5,"color":"#111"},{"offset":0.5375,"color":"#111"},{"offset":0.5375,"color":"#fff"},{"offset":0.5833,"color":"#fff"},
{"offset":0.5833,"color":"#111"},{"offset":0.6208,"color":"#111"},{"offset":0.6208,"color":"#fff"},{"offset":0.6667,"color":"#fff"},
{"offset":0.6667,"color":"#111"},{"offset":0.7042,"color":"#111"},{"offset":0.7042,"color":"#fff"},{"offset":0.75,"color":"#fff"},
{"offset":0.75,"color":"#111"},{"offset":0.7875,"color":"#111"},{"offset":0.7875,"color":"#fff"},{"offset":0.8333,"color":"#fff"},
{"offset":0.8333,"color":"#111"},{"offset":0.8708,"color":"#111"},{"offset":0.8708,"color":"#fff"},{"offset":0.9167,"color":"#fff"},
{"offset":0.9167,"color":"#111"},{"offset":0.9542,"color":"#111"},{"offset":0.9542,"color":"#fff"},{"offset":1,"color":"#fff"}]}},"encoding":{"xOffset":{"field":"series","type":"nominal"}}},
   {"mark":{"type":"rule","color":"#111","strokeWidth":1.1},"encoding":{"xOffset":{"field":"series","type":"nominal"},"y":{"field":"lo","type":"quantitative"},"y2":{"field":"hi"}}},
   {"mark":{"type":"tick","color":"#111","size":6,"thickness":1.1},"encoding":{"xOffset":{"field":"series","type":"nominal"},"y":{"field":"lo","type":"quantitative"}}},
   {"mark":{"type":"tick","color":"#111","size":6,"thickness":1.1},"encoding":{"xOffset":{"field":"series","type":"nominal"},"y":{"field":"hi","type":"quantitative"}}}
  ]},
  {"data":{"name":"plabels"},"transform":[{"filter":"datum.panel=='RUUO-RBF'"}],"mark":{"type":"text","fontSize":12.5,"color":"#222"},"encoding":{"y":{"field":"py","type":"quantitative"},"text":{"field":"p"}}},
  {"data":{"name":"tags"},"transform":[{"filter":"datum.panel=='RUUO-RBF'"}],"layer":[
   {"mark":{"type":"point","shape":"square","filled":true,"color":"#1a1a1a","opacity":1,"size":125,"xOffset":-78.7},"encoding":{"y":{"field":"ly","type":"quantitative"}}},
   {"mark":{"type":"text","color":"white","fontWeight":"bold","fontSize":10,"dx":-78.7},"encoding":{"y":{"field":"ly","type":"quantitative"},"text":{"field":"letter"}}}
  ]}
 ]},
{"width":172,"height":121,
 "encoding":{"x":{"field":"group","type":"nominal","sort":["Control","Antagonist"],"scale":{"paddingInner":0.59,"paddingOuter":0.3},"axis":{"title":null}},
  "y":{"field":"mean","type":"quantitative","scale":{"domain":[0,150],"nice":false},"axis":{"values":[0,30,60,90,120,150],"title":"RVR (mmHg.min/ml)"}}},
 "layer":[
  {"data":{"name":"bars"},"transform":[{"filter":"datum.panel=='Sham-RVR'"}],"layer":[
   {"transform":[{"filter":"datum.series=='dotted'"}],"mark":{"type":"bar","fill":"#d4d4d4","stroke":"#111","strokeWidth":1.3},"encoding":{"xOffset":{"field":"series","type":"nominal","scale":{"domain":["dotted","hatched"],"paddingInner":0,"paddingOuter":0}}}},
   {"transform":[{"filter":"datum.series=='hatched'"}],"mark":{"type":"bar","stroke":"#111","strokeWidth":1.3,"fill":{"gradient":"linear","x1":0,"y1":1,"x2":0.5126,"y2":-0.4141,"stops":[
{"offset":0,"color":"#111"},{"offset":0.0375,"color":"#111"},{"offset":0.0375,"color":"#fff"},{"offset":0.0833,"color":"#fff"},
{"offset":0.0833,"color":"#111"},{"offset":0.1208,"color":"#111"},{"offset":0.1208,"color":"#fff"},{"offset":0.1667,"color":"#fff"},
{"offset":0.1667,"color":"#111"},{"offset":0.2042,"color":"#111"},{"offset":0.2042,"color":"#fff"},{"offset":0.25,"color":"#fff"},
{"offset":0.25,"color":"#111"},{"offset":0.2875,"color":"#111"},{"offset":0.2875,"color":"#fff"},{"offset":0.3333,"color":"#fff"},
{"offset":0.3333,"color":"#111"},{"offset":0.3708,"color":"#111"},{"offset":0.3708,"color":"#fff"},{"offset":0.4167,"color":"#fff"},
{"offset":0.4167,"color":"#111"},{"offset":0.4542,"color":"#111"},{"offset":0.4542,"color":"#fff"},{"offset":0.5,"color":"#fff"},
{"offset":0.5,"color":"#111"},{"offset":0.5375,"color":"#111"},{"offset":0.5375,"color":"#fff"},{"offset":0.5833,"color":"#fff"},
{"offset":0.5833,"color":"#111"},{"offset":0.6208,"color":"#111"},{"offset":0.6208,"color":"#fff"},{"offset":0.6667,"color":"#fff"},
{"offset":0.6667,"color":"#111"},{"offset":0.7042,"color":"#111"},{"offset":0.7042,"color":"#fff"},{"offset":0.75,"color":"#fff"},
{"offset":0.75,"color":"#111"},{"offset":0.7875,"color":"#111"},{"offset":0.7875,"color":"#fff"},{"offset":0.8333,"color":"#fff"},
{"offset":0.8333,"color":"#111"},{"offset":0.8708,"color":"#111"},{"offset":0.8708,"color":"#fff"},{"offset":0.9167,"color":"#fff"},
{"offset":0.9167,"color":"#111"},{"offset":0.9542,"color":"#111"},{"offset":0.9542,"color":"#fff"},{"offset":1,"color":"#fff"}]}},"encoding":{"xOffset":{"field":"series","type":"nominal"}}},
   {"mark":{"type":"rule","color":"#111","strokeWidth":1.1},"encoding":{"xOffset":{"field":"series","type":"nominal"},"y":{"field":"lo","type":"quantitative"},"y2":{"field":"hi"}}},
   {"mark":{"type":"tick","color":"#111","size":6,"thickness":1.1},"encoding":{"xOffset":{"field":"series","type":"nominal"},"y":{"field":"lo","type":"quantitative"}}},
   {"mark":{"type":"tick","color":"#111","size":6,"thickness":1.1},"encoding":{"xOffset":{"field":"series","type":"nominal"},"y":{"field":"hi","type":"quantitative"}}}
  ]},
  {"data":{"name":"plabels"},"transform":[{"filter":"datum.panel=='Sham-RVR'"}],"mark":{"type":"text","fontSize":12.5,"color":"#222"},"encoding":{"y":{"field":"py","type":"quantitative"},"text":{"field":"p"}}},
  {"data":{"name":"tags"},"transform":[{"filter":"datum.panel=='Sham-RVR'"}],"layer":[
   {"mark":{"type":"point","shape":"square","filled":true,"color":"#1a1a1a","opacity":1,"size":125,"xOffset":-84.2},"encoding":{"y":{"field":"ly","type":"quantitative"}}},
   {"mark":{"type":"text","color":"white","fontWeight":"bold","fontSize":10,"dx":-84.2},"encoding":{"y":{"field":"ly","type":"quantitative"},"text":{"field":"letter"}}}
  ]}
 ]},
{"width":165,"height":121,
 "encoding":{"x":{"field":"group","type":"nominal","sort":["Control","Antagonist"],"scale":{"paddingInner":0.59,"paddingOuter":0.3},"axis":{"title":null}},
  "y":{"field":"mean","type":"quantitative","scale":{"domain":[0,150],"nice":false},"axis":{"values":[0,30,60,90,120,150],"title":"RVR (mmHg.min/ml)"}}},
 "layer":[
  {"data":{"name":"bars"},"transform":[{"filter":"datum.panel=='UUO-RVR'"}],"layer":[
   {"transform":[{"filter":"datum.series=='dotted'"}],"mark":{"type":"bar","fill":"#d4d4d4","stroke":"#111","strokeWidth":1.3},"encoding":{"xOffset":{"field":"series","type":"nominal","scale":{"domain":["dotted","hatched"],"paddingInner":0,"paddingOuter":0}}}},
   {"transform":[{"filter":"datum.series=='hatched'"}],"mark":{"type":"bar","stroke":"#111","strokeWidth":1.3,"fill":{"gradient":"linear","x1":0,"y1":1,"x2":0.2562,"y2":-0.2056,"stops":[
{"offset":0,"color":"#111"},{"offset":0.0281,"color":"#111"},{"offset":0.0281,"color":"#fff"},{"offset":0.0625,"color":"#fff"},
{"offset":0.0625,"color":"#111"},{"offset":0.0906,"color":"#111"},{"offset":0.0906,"color":"#fff"},{"offset":0.125,"color":"#fff"},
{"offset":0.125,"color":"#111"},{"offset":0.1531,"color":"#111"},{"offset":0.1531,"color":"#fff"},{"offset":0.1875,"color":"#fff"},
{"offset":0.1875,"color":"#111"},{"offset":0.2156,"color":"#111"},{"offset":0.2156,"color":"#fff"},{"offset":0.25,"color":"#fff"},
{"offset":0.25,"color":"#111"},{"offset":0.2781,"color":"#111"},{"offset":0.2781,"color":"#fff"},{"offset":0.3125,"color":"#fff"},
{"offset":0.3125,"color":"#111"},{"offset":0.3406,"color":"#111"},{"offset":0.3406,"color":"#fff"},{"offset":0.375,"color":"#fff"},
{"offset":0.375,"color":"#111"},{"offset":0.4031,"color":"#111"},{"offset":0.4031,"color":"#fff"},{"offset":0.4375,"color":"#fff"},
{"offset":0.4375,"color":"#111"},{"offset":0.4656,"color":"#111"},{"offset":0.4656,"color":"#fff"},{"offset":0.5,"color":"#fff"},
{"offset":0.5,"color":"#111"},{"offset":0.5281,"color":"#111"},{"offset":0.5281,"color":"#fff"},{"offset":0.5625,"color":"#fff"},
{"offset":0.5625,"color":"#111"},{"offset":0.5906,"color":"#111"},{"offset":0.5906,"color":"#fff"},{"offset":0.625,"color":"#fff"},
{"offset":0.625,"color":"#111"},{"offset":0.6531,"color":"#111"},{"offset":0.6531,"color":"#fff"},{"offset":0.6875,"color":"#fff"},
{"offset":0.6875,"color":"#111"},{"offset":0.7156,"color":"#111"},{"offset":0.7156,"color":"#fff"},{"offset":0.75,"color":"#fff"},
{"offset":0.75,"color":"#111"},{"offset":0.7781,"color":"#111"},{"offset":0.7781,"color":"#fff"},{"offset":0.8125,"color":"#fff"},
{"offset":0.8125,"color":"#111"},{"offset":0.8406,"color":"#111"},{"offset":0.8406,"color":"#fff"},{"offset":0.875,"color":"#fff"},
{"offset":0.875,"color":"#111"},{"offset":0.9031,"color":"#111"},{"offset":0.9031,"color":"#fff"},{"offset":0.9375,"color":"#fff"},
{"offset":0.9375,"color":"#111"},{"offset":0.9656,"color":"#111"},{"offset":0.9656,"color":"#fff"},{"offset":1,"color":"#fff"}]}},"encoding":{"xOffset":{"field":"series","type":"nominal"}}},
   {"mark":{"type":"rule","color":"#111","strokeWidth":1.1},"encoding":{"xOffset":{"field":"series","type":"nominal"},"y":{"field":"lo","type":"quantitative"},"y2":{"field":"hi"}}},
   {"mark":{"type":"tick","color":"#111","size":6,"thickness":1.1},"encoding":{"xOffset":{"field":"series","type":"nominal"},"y":{"field":"lo","type":"quantitative"}}},
   {"mark":{"type":"tick","color":"#111","size":6,"thickness":1.1},"encoding":{"xOffset":{"field":"series","type":"nominal"},"y":{"field":"hi","type":"quantitative"}}}
  ]},
  {"data":{"name":"plabels"},"transform":[{"filter":"datum.panel=='UUO-RVR'"}],"mark":{"type":"text","fontSize":12.5,"color":"#222"},"encoding":{"y":{"field":"py","type":"quantitative"},"text":{"field":"p"}}},
  {"data":{"name":"tags"},"transform":[{"filter":"datum.panel=='UUO-RVR'"}],"layer":[
   {"mark":{"type":"point","shape":"square","filled":true,"color":"#1a1a1a","opacity":1,"size":125,"xOffset":-81.4},"encoding":{"y":{"field":"ly","type":"quantitative"}}},
   {"mark":{"type":"text","color":"white","fontWeight":"bold","fontSize":10,"dx":-81.4},"encoding":{"y":{"field":"ly","type":"quantitative"},"text":{"field":"letter"}}}
  ]}
 ]},
{"width":172,"height":121,
 "encoding":{"x":{"field":"group","type":"nominal","sort":["Control","Antagonist"],"scale":{"paddingInner":0.59,"paddingOuter":0.3},"axis":{"title":null}},
  "y":{"field":"mean","type":"quantitative","scale":{"domain":[0,150],"nice":false},"axis":{"values":[0,30,60,90,120,150],"title":"RVR (mmHg.min/ml)"}}},
 "layer":[
  {"data":{"name":"bars"},"transform":[{"filter":"datum.panel=='RUUO-RVR'"}],"layer":[
   {"transform":[{"filter":"datum.series=='dotted'"}],"mark":{"type":"bar","fill":"#d4d4d4","stroke":"#111","strokeWidth":1.3},"encoding":{"xOffset":{"field":"series","type":"nominal","scale":{"domain":["dotted","hatched"],"paddingInner":0,"paddingOuter":0}}}},
   {"transform":[{"filter":"datum.series=='hatched'"}],"mark":{"type":"bar","stroke":"#111","strokeWidth":1.3,"fill":{"gradient":"linear","x1":0,"y1":1,"x2":0.5126,"y2":-0.4141,"stops":[
{"offset":0,"color":"#111"},{"offset":0.0375,"color":"#111"},{"offset":0.0375,"color":"#fff"},{"offset":0.0833,"color":"#fff"},
{"offset":0.0833,"color":"#111"},{"offset":0.1208,"color":"#111"},{"offset":0.1208,"color":"#fff"},{"offset":0.1667,"color":"#fff"},
{"offset":0.1667,"color":"#111"},{"offset":0.2042,"color":"#111"},{"offset":0.2042,"color":"#fff"},{"offset":0.25,"color":"#fff"},
{"offset":0.25,"color":"#111"},{"offset":0.2875,"color":"#111"},{"offset":0.2875,"color":"#fff"},{"offset":0.3333,"color":"#fff"},
{"offset":0.3333,"color":"#111"},{"offset":0.3708,"color":"#111"},{"offset":0.3708,"color":"#fff"},{"offset":0.4167,"color":"#fff"},
{"offset":0.4167,"color":"#111"},{"offset":0.4542,"color":"#111"},{"offset":0.4542,"color":"#fff"},{"offset":0.5,"color":"#fff"},
{"offset":0.5,"color":"#111"},{"offset":0.5375,"color":"#111"},{"offset":0.5375,"color":"#fff"},{"offset":0.5833,"color":"#fff"},
{"offset":0.5833,"color":"#111"},{"offset":0.6208,"color":"#111"},{"offset":0.6208,"color":"#fff"},{"offset":0.6667,"color":"#fff"},
{"offset":0.6667,"color":"#111"},{"offset":0.7042,"color":"#111"},{"offset":0.7042,"color":"#fff"},{"offset":0.75,"color":"#fff"},
{"offset":0.75,"color":"#111"},{"offset":0.7875,"color":"#111"},{"offset":0.7875,"color":"#fff"},{"offset":0.8333,"color":"#fff"},
{"offset":0.8333,"color":"#111"},{"offset":0.8708,"color":"#111"},{"offset":0.8708,"color":"#fff"},{"offset":0.9167,"color":"#fff"},
{"offset":0.9167,"color":"#111"},{"offset":0.9542,"color":"#111"},{"offset":0.9542,"color":"#fff"},{"offset":1,"color":"#fff"}]}},"encoding":{"xOffset":{"field":"series","type":"nominal"}}},
   {"mark":{"type":"rule","color":"#111","strokeWidth":1.1},"encoding":{"xOffset":{"field":"series","type":"nominal"},"y":{"field":"lo","type":"quantitative"},"y2":{"field":"hi"}}},
   {"mark":{"type":"tick","color":"#111","size":6,"thickness":1.1},"encoding":{"xOffset":{"field":"series","type":"nominal"},"y":{"field":"lo","type":"quantitative"}}},
   {"mark":{"type":"tick","color":"#111","size":6,"thickness":1.1},"encoding":{"xOffset":{"field":"series","type":"nominal"},"y":{"field":"hi","type":"quantitative"}}}
  ]},
  {"data":{"name":"plabels"},"transform":[{"filter":"datum.panel=='RUUO-RVR'"}],"mark":{"type":"text","fontSize":12.5,"color":"#222"},"encoding":{"y":{"field":"py","type":"quantitative"},"text":{"field":"p"}}},
  {"data":{"name":"tags"},"transform":[{"filter":"datum.panel=='RUUO-RVR'"}],"layer":[
   {"mark":{"type":"point","shape":"square","filled":true,"color":"#1a1a1a","opacity":1,"size":125,"xOffset":-77.2},"encoding":{"y":{"field":"ly","type":"quantitative"}}},
   {"mark":{"type":"text","color":"white","fontWeight":"bold","fontSize":10,"dx":-77.2},"encoding":{"y":{"field":"ly","type":"quantitative"},"text":{"field":"letter"}}}
  ]}
 ]}
],
"config": {
 "view": {"stroke": null},
 "font": "Lato",
 "text": {"font": "Lato"},
 "axis": {"labelFont": "Lato", "labelFontWeight": "bold", "labelFontSize": 11.5, "labelColor": "#222", "titleFont": "Lato", "titleFontWeight": "bold", "titleFontSize": 11, "titleColor": "#222", "domainColor": "#8c8c8c", "tickColor": "#8c8c8c", "grid": false},
 "axisX": {"ticks": false, "labelPadding": 9, "labelAngle": 0},
 "axisY": {"tickSize": 4, "labelPadding": 3, "titlePadding": 5},
 "title": {"font": "Liberation Serif", "fontSize": 14.5, "fontWeight": "bold", "color": "#111", "anchor": "middle", "frame": "bounds", "offset": 18}
}
}
